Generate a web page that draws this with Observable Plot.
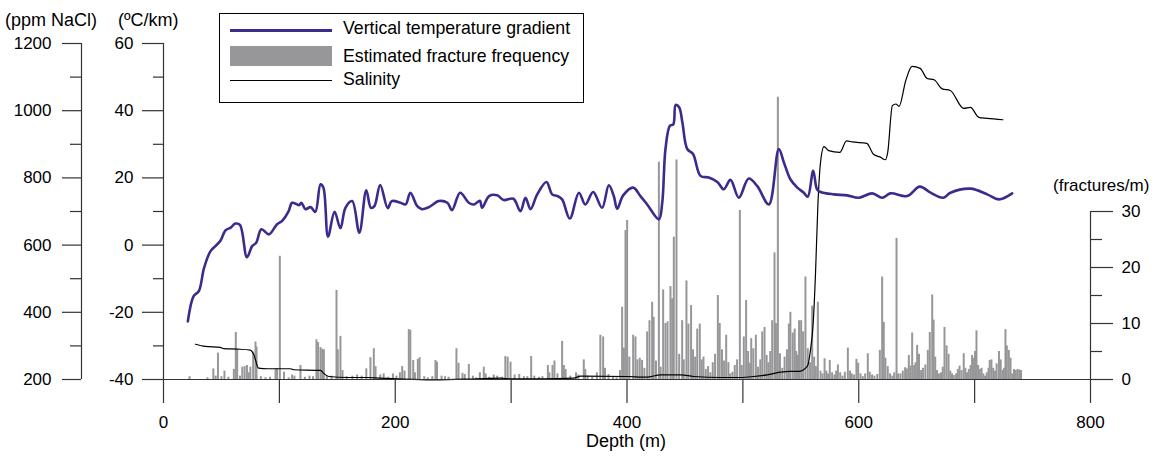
<!DOCTYPE html>
<html><head><meta charset="utf-8">
<script src="https://cdn.jsdelivr.net/npm/d3@7"></script>
<script src="https://cdn.jsdelivr.net/npm/@observablehq/plot@0.6"></script>
<style>
body{margin:0;background:#fff;}
#wrap{position:relative;width:1153px;height:457px;font-family:"Liberation Sans",Arial,sans-serif;color:#000;overflow:hidden;}
.lbl{position:absolute;font-size:17px;line-height:17px;white-space:nowrap;}
.leg{font-size:17.7px;}
#legend{position:absolute;left:219px;top:13px;width:363px;height:88px;border:1px solid #000;background:#fff;}
.sw{position:absolute;}
</style></head><body><div id="wrap"></div>
<script>
// ---------------- DATA ----------------
const depthDomain = [0, 800];
const depthTicks = [0, 100, 200, 300, 400, 500, 600, 700, 800];
const depthLabels = [0, 200, 400, 600, 800];
const tempTicks = [-40, -20, 0, 20, 40, 60];
const tempMinor = [-30, -10, 10, 30, 50];
const salTicks = [200, 400, 600, 800, 1000, 1200];
const salMinor = [300, 500, 700, 900, 1100];
const fracTicks = [0, 10, 20, 30];
const fracMinor = [5, 15, 25];
const fracDomain = [0, 60];

// vertical temperature gradient (depth m, ºC/km)
const tempGradient = [
 [21,-22.7],[26,-15.2],[30.5,-13.7],[35,-6.8],[40.6,-1.8],[49,1.2],[53.5,4.4],[58,5.2],[62,6.4],[66,6],
 [72,-3.6],[76.5,-0.3],[80,0.7],[84.5,4.7],[91,3.2],[98,6.2],[102.4,7.2],[108,10.1],[111,12.6],[117,11.9],
 [119,12.6],[122.5,10.7],[127,11.3],[131,9.9],[135.5,18.1],[138,17.1],[142,2.5],[147.6,9.9],[152.7,5],[157,11.1],
 [162.8,13.1],[169,3.7],[175,16.3],[179,11.1],[182,11.6],[187,17.9],[193.5,11],[197,13.1],[204.5,12.6],[209,12.1],
 [213,15.6],[219,11.6],[223,10.7],[229,11.3],[237.6,13.1],[245,12.6],[249,10.4],[256,15.6],[263.5,12.6],[268,12.1],
 [273,13.2],[275,11.1],[281,14.6],[288,14.8],[293.5,13.4],[302,13.8],[308,10.1],[312.4,14.1],[316.7,10.7],[322.5,15.1],
 [330.5,18.8],[335.4,15.1],[340,14.6],[344,13.6],[350.6,7.9],[358.5,15.6],[364,12.1],[370.8,15.8],[378.5,11.1],[384.3,17.8],
 [388.6,14.6],[391.5,10.8],[396.7,14.8],[405.3,17.1],[411.6,14.6],[417.4,12.1],[427.5,7.7],[430.4,12.6],[433.2,28.6],[437,35.5],
 [440,36],[442,41.7],[445,41],[447.8,36.5],[452,28.6],[457,27.1],[463.4,20.6],[470.6,20.1],[478,18.8],[483.5,16.6],
 [489.3,19.4],[496.5,14.1],[505,19.8],[512.3,17.6],[522.4,12.1],[531,28.6],[535.4,24.6],[541,19.6],[547,17.1],[552.6,15.6],
 [556,14.4],[560.7,22.1],[564,16.6],[567,15.8],[578.5,15.1],[590,14.8],[600,14.1],[611.6,15.4],[620.2,14.1],[627.4,15.4],
 [641.8,14.6],[652.7,17.4],[662,15.6],[672.9,14.1],[679.2,15.6],[696.4,16.8],[710.8,15.1],[721,13.6],[732.4,15.4]
];

// salinity (depth m, ppm NaCl)
const salinity = [
 [27.6,305],[36,298.5],[49,295.5],[52,291.6],[63.6,290.4],[75,287.5],[78,273.7],[82,233.7],[89.5,232],[109.6,232],
 [112.5,229],[135.5,227],[138,219],[142.7,209],[158.5,206],[176,206],[187,204],[207,201],[233,199],[259,201],
 [291,204],[299.5,202],[328,202],[354,204],[360,210],[400,209],[417,207],[429,214],[446,214],[457.6,209],
 [480.7,206],[498,206],[509.4,209],[521,214],[532.5,222],[541,224],[548,224],[555.6,239],[558.4,289],[560.7,368],
 [562.7,517],[564.7,716],[567,846],[570,893],[574,881],[583.6,876],[589.5,910],[594.3,907],[607,903],[612.5,871],
 [619,861],[623,854],[625,876],[629,1015],[632,1020],[634.8,1013],[640.6,1090],[646,1132],[653,1126],[659,1096],
 [665,1092],[672,1065],[679,1060],[690.6,1007],[696.4,1010],[703.6,980],[710.8,977],[724.4,973]
];

// estimated fracture frequency (depth m, fractures/m)
const fractures = [
 [22.5,0.5],[38,0.3],[43,1.9],[45,0.6],[47,4.7],[50,0.5],[52.6,1.5],[56,0.4],[60.7,1.8],[62.4,8.4],
 [63.6,5.2],[66,0.6],[68,2.2],[70,2.3],[72,2.5],[73.5,1.2],[75,2.2],[77.4,4.9],[79.4,6.7],[80.3,5.8],
 [84,0.5],[88,0.3],[92,0.4],[96.7,1.9],[98,1.9],[100.4,22],[104,1.3],[108,0.3],[111,0.8],[113,0.6],
 [118.2,2.5],[122,0.4],[126,0.6],[129,0.5],[132,7.1],[133.4,6.6],[135.5,5.7],[137,5.4],[138.4,5.3],[141,0.6],
 [145,0.6],[149.3,15.9],[150.4,5.3],[152.7,7.7],[154.5,1.6],[158,0.5],[163,0.6],[167,0.8],[171,0.6],[175,1.9],
 [178.6,3.9],[181.5,5.5],[183,2.3],[187,0.8],[190,1.0],[194,0.4],[198,1.0],[201,0.6],[204,1.2],[206,2.3],
 [208,1.5],[211.7,8.9],[213,8.8],[215.5,3.4],[217,1.2],[219.5,3.6],[221,3.9],[225,0.5],[228,0.3],[232,0.5],
 [234.7,3.4],[236,3.1],[240,0.6],[243,0.5],[246,0.4],[252.8,5.5],[254.6,2.9],[258,1.1],[260,0.9],[263.5,2.7],
 [267,0.6],[270,0.3],[273,1.2],[276.4,2.2],[278,1.0],[281,0.4],[285,0.8],[288,0.6],[292,0.4],[295,4.1],
 [297,4.0],[299.5,3.1],[303,0.8],[307,0.9],[311,0.5],[314,0.5],[317.3,4.1],[320,0.6],[324,0.4],[327,0.5],
 [331.7,2.5],[333,1.2],[335.7,2.5],[337.4,3.3],[340,1.0],[344,6.8],[345.5,2.5],[347,1.8],[351,0.6],[356,1.2],
 [358,0.8],[362.7,3.5],[364,1.8],[366,0.6],[370,0.4],[374,1.2],[377,7.9],[379.4,7.6],[381,2.0],[384,0.9],
 [388,0.5],[391,0.3],[394,1.6],[395.8,12.9],[397.3,5.6],[398.7,26.6],[400.1,28.4],[402,4.0],[405.3,7.9],[407.3,7.6],
 [409,3.5],[411,3.8],[413,3.4],[415,2.0],[417.4,8.5],[419.4,10.5],[421.7,13.8],[423,11.1],[425,3.3],[427.5,38.8],
 [429,2.2],[431.2,16],[433.2,10],[435,10.3],[437.5,16.6],[439,14.4],[440.4,25.4],[442.7,39.2],[445,4.5],[447.6,10.5],
 [449,3.5],[451.3,17.6],[453,9.9],[455.3,13.2],[457,5.3],[458.8,4.0],[460.6,9],[462.8,9.9],[464.5,3.5],[466,4.0],
 [468,1.8],[470,2.3],[472,1.2],[474,3.0],[476,4.5],[478.4,15],[480,10],[482,5.3],[483.8,3.3],[485.6,7.9],
 [487.5,3.0],[489,1.0],[491,1.3],[493,2.5],[495,3.5],[497.4,30.2],[499,2.5],[500.8,7.6],[502.8,14.1],[504.5,5.0],
 [506,2.9],[507.2,7.3],[509,5.5],[511.2,7.9],[513,2.2],[515,3.5],[516.7,8.5],[518.7,9.3],[520.5,4.3],[522,3.0],
 [523.6,5.0],[525.3,10.5],[527.3,22.6],[528.5,10.0],[530.2,50.4],[532,4.6],[534,2.0],[536,4.0],[538,5.3],[539.7,9.9],
 [541,12],[543,8.3],[544.7,9.0],[546,5.0],[547.5,4.3],[548.5,10.5],[550.3,10.5],[552,8.5],[554,18.3],[556,5.5],
 [558,3.0],[559.8,13.1],[561.5,4.0],[563,2.3],[564.7,13.8],[567,1.5],[568.7,1.0],[570.5,3.7],[572,1.5],[573.5,1.0],
 [575,3.4],[577,1.2],[579,0.8],[580.5,1.5],[582,2.6],[584,1.2],[586,0.6],[588,1.3],[590.6,5.6],[592.5,1.5],
 [594,1.0],[596,0.8],[598,3.6],[599.5,2.9],[601.5,1.0],[603.5,0.5],[605.5,1.0],[607.8,4.6],[609.5,1.3],[611.5,0.8],
 [613.5,0.6],[616,0.9],[618.2,5.2],[620.2,18.3],[621.6,10.2],[623,3.8],[625,2.3],[627,1.0],[629,0.6],[630.6,1.2],
 [632.6,25.2],[634,1.0],[636,1.0],[638,1.5],[640,2.1],[641.5,1.9],[643.2,4.3],[644.5,2.4],[646.1,8.3],[647.8,2.5],
 [649,3.0],[650.4,6.1],[652,4.5],[653.8,1.6],[655.5,2.0],[657.5,2.6],[659.6,5.2],[661.3,8.4],[663.4,15.1],[664.6,10.6],
 [666,4.0],[667.5,1.6],[669.2,1.0],[671,1.2],[672.5,2.2],[674,9.3],[675.8,6.0],[677.5,4.5],[679,1.5],[680.5,1.0],
 [682,0.7],[684,1.0],[685.5,1.8],[687,2.4],[688.7,1.6],[690.6,4.6],[692,2.0],[693.5,1.2],[695,1.8],[696.5,2.5],
 [697.8,4.3],[699,3.8],[700.3,5.0],[701.6,8.7],[703,2.5],[704.5,1.8],[706,2.0],[707.5,1.0],[709,0.6],[710.5,1.2],
 [712,2.0],[713,3.4],[714.5,3.5],[716,2.0],[717.5,1.5],[719,2.8],[721,5.0],[722.5,3.5],[724,1.6],[725.3,2.0],
 [726.6,8.9],[727.8,6.0],[729.5,5.2],[731,3.8],[732.5,1.0],[734,1.8],[735.5,1.6],[737,1.8],[738.5,1.7],[740,1.6]
];

// ---------------- STYLE ----------------
const tempColor = "#3a2c8c";
const barColor = "#97979a";
const axisColor = "#333";
const font = "'Liberation Sans', Arial, sans-serif";
const plain = d => String(d);

const wrap = document.getElementById("wrap");
const base = () => ({
  width: 1153, height: 457,
  marginLeft: 163, marginRight: 63, marginTop: 43, marginBottom: 78,
  style: {position: "absolute", left: "0px", top: "0px", background: "transparent",
          fontFamily: font, fontSize: "17px", color: "#000", overflow: "visible", maxWidth: "none"}
});

// Fracture frequency (bottom layer, right axis)
const pFrac = Plot.plot({
  ...base(),
  x: {domain: depthDomain, axis: null},
  y: {domain: fracDomain, axis: null},
  marks: [
    Plot.ruleX(fractures, {x: d => d[0], y1: 0, y2: d => d[1], stroke: barColor, strokeWidth: 2}),
    Plot.ruleX([depthDomain[1]], {y1: fracTicks[0], y2: fracTicks[fracTicks.length - 1], stroke: axisColor, strokeWidth: 1.2}),
    Plot.axisY({anchor: "right", ticks: fracTicks, tickSize: 22, tickPadding: 9, tickFormat: plain, label: null, stroke: axisColor, strokeWidth: 1.2}),
    Plot.axisY({anchor: "right", ticks: fracMinor, tickSize: 11, tickFormat: () => "", label: null, stroke: axisColor, strokeWidth: 1.2})
  ]
});

// Salinity (middle layer, outer left axis)
const pSal = Plot.plot({
  ...base(),
  x: {domain: depthDomain, axis: null},
  y: {domain: [salTicks[0], salTicks[salTicks.length - 1]], axis: null},
  marks: [
    Plot.line(salinity, {x: d => d[0], y: d => d[1], stroke: "#000", strokeWidth: 1.2, curve: "monotone-x"}),
    Plot.ruleX([depthDomain[0]], {y1: salTicks[0], y2: salTicks[salTicks.length - 1], dx: -82, stroke: axisColor, strokeWidth: 1.2}),
    Plot.axisY({anchor: "left", ticks: salTicks, tickSize: 19, tickPadding: 11, dx: -82, tickFormat: plain, label: null, stroke: axisColor, strokeWidth: 1.2}),
    Plot.axisY({anchor: "left", ticks: salMinor, tickSize: 11, tickFormat: () => "", dx: -82, label: null, stroke: axisColor, strokeWidth: 1.2})
  ]
});

// Temperature gradient (top layer, inner left axis, depth axis)
const pTemp = Plot.plot({
  ...base(),
  x: {domain: depthDomain},
  y: {domain: [tempTicks[0], tempTicks[tempTicks.length - 1]]},
  marks: [
    Plot.ruleY([tempTicks[0]], {stroke: axisColor, strokeWidth: 1.2}),
    Plot.ruleX([depthDomain[0]], {y1: tempTicks[0], y2: tempTicks[tempTicks.length - 1], stroke: axisColor, strokeWidth: 1.2}),
    Plot.axisY({anchor: "left", ticks: tempTicks, tickSize: 21, tickPadding: 9, tickFormat: plain, label: null, stroke: axisColor, strokeWidth: 1.2}),
    Plot.axisY({anchor: "left", ticks: tempMinor, tickSize: 10, tickFormat: () => "", label: null, stroke: axisColor, strokeWidth: 1.2}),
    Plot.axisX({anchor: "bottom", ticks: depthTicks, tickSize: 24, tickPadding: 12,
      tickFormat: d => depthLabels.includes(d) ? String(d) : "", label: null, stroke: axisColor, strokeWidth: 1.2}),
    Plot.line(tempGradient, {x: d => d[0], y: d => d[1], stroke: tempColor, strokeWidth: 2.6, curve: "catmull-rom"})
  ]
});

wrap.append(pFrac, pSal, pTemp);

// ---------------- TEXT & LEGEND ----------------
function label(text, left, top, extra) {
  const el = document.createElement("div");
  el.className = "lbl";
  el.textContent = text;
  el.style.left = left + "px";
  el.style.top = top + "px";
  if (extra) Object.assign(el.style, extra);
  wrap.append(el);
  return el;
}
label("(ppm NaCl)", 5, 12, {fontSize: "18px"});
label("(ºC/km)", 118, 12, {fontSize: "18px"});
label("(fractures/m)", 1053, 177);
label("Depth (m)", 626, 433, {transform: "translateX(-50%)", fontSize: "18px"});

const legend = document.createElement("div");
legend.id = "legend";
wrap.append(legend);
const legendItems = [
  {name: "Vertical temperature gradient", kind: "line", color: tempColor, w: 2.6},
  {name: "Estimated fracture frequency", kind: "rect", color: barColor},
  {name: "Salinity", kind: "line", color: "#000", w: 1.2}
];
const rowCenter = [30.5, 55.5, 80.5];
const rowBaseline = [35, 62.5, 86];
legendItems.forEach((it, i) => {
  const sw = document.createElement("div");
  sw.className = "sw";
  sw.style.left = (230 - 220) + "px";
  sw.style.width = "102px";
  if (it.kind === "line") {
    sw.style.top = (rowCenter[i] - 14 - it.w / 2) + "px";
    sw.style.height = it.w + "px";
  } else {
    sw.style.top = (45.5 - 14) + "px";
    sw.style.height = "20px";
  }
  sw.style.background = it.color;
  legend.append(sw);
  const t = document.createElement("div");
  t.className = "lbl leg";
  t.textContent = it.name;
  t.style.left = (343 - 220) + "px";
  t.style.top = (rowBaseline[i] - 14 - 15) + "px";
  legend.append(t);
});
</script></body></html>
